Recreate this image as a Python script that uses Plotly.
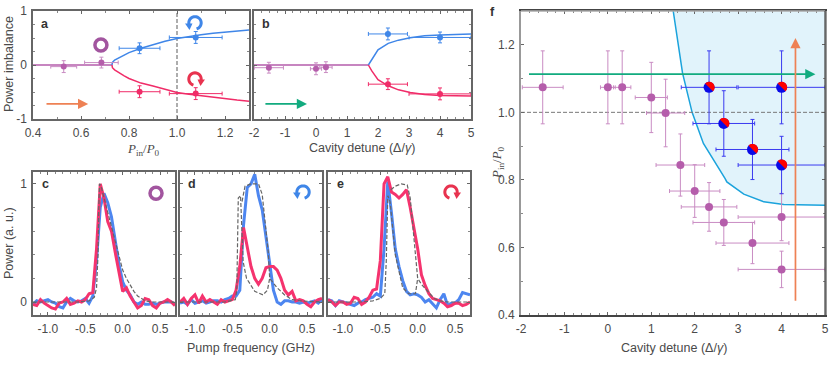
import numpy as np
import plotly.graph_objects as go

W, H = 830, 369
FONT = "Liberation Sans"
GREY = "#666666"
TEXT = "#4a4a4a"
PURPLE = "#b55dab"
PURPLE_ERR = "#c98cc3"
BLUE = "#3f86e8"
RED = "#f02c68"
DEEP_BLUE = "#0a0ae6"
SPEC_BLUE = "#4d86f0"
SPEC_RED = "#f5336e"
ORANGE = "#ee8154"
GREEN = "#12ab7f"
CYAN = "#1ba3dc"
RING = "#a2559f"
ICON_RED = "#e8334f"

# tick labels, hyphens as printed in the figure
power_ticks = [0.4, 0.6, 0.8, 1.0, 1.2]
power_labels = ["0.4", "0.6", "0.8", "1.0", "1.2"]
detune_ticks = [-2, -1, 0, 1, 2, 3, 4, 5]
detune_labels = ["-2", "-1", "0", "1", "2", "3", "4", "5"]
imbalance_ticks = [-1, 0, 1]
imbalance_labels = ["-1", "0", "1"]
freq_ticks = [-1.0, -0.5, 0.0, 0.5]
freq_labels = ["-1.0", "-0.5", "0.0", "0.5"]
spec_ticks = [0, 1]
spec_labels = ["0", "1"]

# panel a: imbalance vs power
a_curve_x = [0.729, 0.731, 0.74, 0.76, 0.78, 0.80, 0.85, 0.9, 0.95, 1.0, 1.05, 1.1, 1.15, 1.2, 1.25, 1.3]
a_upper = [0, 0.05, 0.09, 0.14, 0.19, 0.23, 0.31, 0.38, 0.44, 0.49, 0.53, 0.56, 0.59, 0.61, 0.63, 0.65]
a_lower = [0, -0.05, -0.09, -0.15, -0.2, -0.25, -0.335, -0.39, -0.45, -0.51, -0.54, -0.57, -0.6, -0.62, -0.65, -0.67]
a_flat_x = [0.4, 0.729]
a_flat_y = [0, 0]
a_purple_x = [0.528, 0.685]
a_purple_y = [-0.03, 0.045]
a_purple_xerr = [0.054, 0.07]
a_purple_yerr = [0.11, 0.1]
a_blue_x = [0.844, 1.078]
a_blue_y = [0.31, 0.51]
a_blue_xerr = [0.085, 0.11]
a_blue_yerr = [0.1, 0.11]
a_red_x = [0.844, 1.078]
a_red_y = [-0.495, -0.53]
a_red_xerr = [0.085, 0.11]
a_red_yerr = [0.11, 0.11]

# panel b: imbalance vs detuning
b_curve_x = [1.69, 1.8, 2.0, 2.33, 2.66, 3.04, 3.5, 4.0, 4.5, 5.0]
b_upper = [0, 0.1, 0.28, 0.4, 0.46, 0.505, 0.54, 0.555, 0.57, 0.575]
b_lower = [0, -0.11, -0.27, -0.385, -0.46, -0.51, -0.545, -0.565, -0.57, -0.575]
b_flat_x = [-2, 1.69]
b_flat_y = [0, 0]
b_purple_x = [-1.52, 0, 0.32]
b_purple_y = [-0.05, -0.07, -0.04]
b_purple_xerr = [0.47, 0.18, 0.2]
b_purple_yerr = [0.1, 0.11, 0.1]
b_blue_x = [2.32, 4]
b_blue_y = [0.575, 0.51]
b_blue_xerr = [0.63, 1]
b_blue_yerr = [0.11, 0.1]
b_red_x = [2.32, 4]
b_red_y = [-0.355, -0.535]
b_red_xerr = [0.63, 1]
b_red_yerr = [0.1, 0.11]

# panels c, d, e: measured spectra on a shared frequency grid
freq = [-1.2, -1.15, -1.1, -1.05, -1.0, -0.95, -0.9, -0.85, -0.8, -0.75, -0.7, -0.65, -0.6, -0.55, -0.5, -0.45, -0.4,
        -0.35, -0.3, -0.25, -0.2, -0.15, -0.1, -0.05, 0.0, 0.05, 0.1, 0.15, 0.2, 0.25, 0.3, 0.35, 0.4, 0.45, 0.5,
        0.55, 0.6, 0.65, 0.7]
c_blue = [-0.02, 0.01, 0.0, 0.01, 0.02, 0.0, -0.01, -0.04, -0.05, 0.0, 0.03, 0.01, 0.0, 0.01, 0.03, -0.01, 0.05,
          0.35, 0.8, 0.92, 0.84, 0.72, 0.53, 0.32, 0.17, 0.1, 0.06, 0.0, -0.02, 0.0, -0.02, -0.02, -0.01, -0.02, -0.01,
          0.0, 0.0, 0.0, -0.02]
c_red = [-0.02, -0.03, 0.02, -0.01, -0.03, -0.05, -0.06, -0.01, 0.0, 0.03, -0.02, -0.01, 0.01, 0.0, 0.02, 0.07, 0.08,
         0.45, 1.0, 0.88, 0.68, 0.6, 0.42, 0.27, 0.09, 0.12, 0.05, 0.0, -0.05, -0.03, 0.03, 0.02, -0.03, -0.05, -0.01,
         0.0, 0.02, 0.0, -0.03]
d_blue = [-0.01, 0.0, -0.02, 0.02, -0.01, 0.0, 0.01, -0.01, 0.0, 0.01, 0.01, 0.0, 0.02, 0.03, 0.05, 0.05, 0.1,
          0.65, 0.97, 1.0, 1.08, 0.9, 0.78, 0.55, 0.35, 0.1, 0.0, -0.02, 0.01, 0.01, 0.0, 0.0, -0.01, 0.0, -0.01,
          0.0, 0.01, -0.01, 0.02]
d_red = [0.0, 0.03, -0.02, 0.03, 0.06, -0.01, 0.05, 0.0, 0.02, 0.0, -0.02, 0.02, 0.0, 0.01, 0.02, 0.1, 0.3,
         0.63, 0.47, 0.3, 0.2, 0.15, 0.2, 0.29, 0.3, 0.3, 0.27, 0.2, 0.1, 0.06, 0.09, 0.01, 0.02, 0.01, -0.02,
         -0.04, 0.0, 0.02, 0.03]
e_blue = [0.02, 0.01, -0.03, 0.01, 0.0, -0.01, -0.02, -0.03, -0.01, 0.0, 0.02, 0.03, 0.04, 0.07, 0.05, 0.45, 1.02,
          0.75, 0.45, 0.3, 0.18, 0.09, 0.06, 0.07, 0.06, 0.04, 0.0, 0.02, -0.02, -0.05, 0.02, 0.07, -0.03, -0.01, -0.01,
          0.02, 0.08, 0.07, 0.06]
e_red = [0.02, 0.0, -0.03, 0.0, 0.0, -0.02, -0.01, 0.04, 0.03, -0.02, 0.0, 0.04, 0.1, 0.11, 0.35, 1.0, 1.06,
         0.93, 0.91, 0.88, 0.91, 0.95, 0.8, 0.62, 0.45, 0.23, 0.14, 0.07, 0.03, 0.02, 0.01, -0.01, -0.04, -0.03, -0.01,
         -0.01, -0.03, -0.02, 0.0]

# grey dashed simulations
c_sim_x = [-1.2, -0.6, -0.45, -0.38, -0.35, -0.33, -0.32, -0.31, -0.29, -0.25, -0.2, -0.15, -0.1, -0.05, 0.0, 0.05,
           0.1, 0.15, 0.2, 0.3, 0.4, 0.7]
c_sim_y = [0, 0, 0.01, 0.04, 0.12, 0.4, 0.8, 1.0, 0.98, 0.88, 0.76, 0.63, 0.5, 0.38, 0.27, 0.2, 0.14, 0.09, 0.05,
           0.01, 0, 0]
d_sim_low_x = [-1.2, -0.6, -0.46, -0.44, -0.43, -0.42, -0.39, -0.355, -0.31, -0.2, -0.09, -0.03, 0.0]
d_sim_low_y = [0, 0, 0.02, 0.1, 0.5, 0.88, 0.9, 0.34, 0.2, 0.09, 0.06, 0.1, 0.2]
d_sim_up_x = [-0.37, -0.33, -0.25, -0.15, -0.1, -0.07, -0.02, 0.0, 0.1, 0.2, 0.3, 0.4, 0.7]
d_sim_up_y = [0.85, 0.98, 1.0, 1.0, 0.91, 0.74, 0.43, 0.2, 0.12, 0.06, 0.02, 0.01, 0]
e_sim_low_x = [-1.2, -0.75, -0.6, -0.5, -0.44, -0.42, -0.4, -0.37, -0.3, -0.25, -0.2, -0.12, -0.03, 0.0]
e_sim_low_y = [0, 0, 0.01, 0.03, 0.07, 0.35, 0.9, 0.85, 0.4, 0.25, 0.12, 0.07, 0.07, 0.2]
e_sim_up_x = [-0.36, -0.3, -0.22, -0.14, -0.1, -0.05, 0.0, 0.05, 0.13, 0.22, 0.3, 0.4, 0.7]
e_sim_up_y = [0.95, 0.98, 1.0, 0.99, 0.88, 0.55, 0.2, 0.15, 0.09, 0.03, 0.01, 0, 0]

# panel f: phase diagram
f_edge_x = [1.505, 1.72, 1.94, 2.2, 2.7, 2.74, 3.13, 3.59, 4.05, 4.67, 5.0]
f_edge_y = [1.3, 1.116, 1.0, 0.908, 0.804, 0.794, 0.758, 0.735, 0.727, 0.725, 0.725]
f_purple_x = [-1.5, 0, 0.33, 1.0, 1.33, 1.67, 2.0, 2.33, 2.67, 3.33, 4.0, 4.0]
f_purple_y = [1.074, 1.074, 1.074, 1.044, 0.998, 0.844, 0.767, 0.72, 0.674, 0.613, 0.69, 0.535]
f_purple_xerr = [0.47, 0.17, 0.2, 0.37, 0.44, 0.56, 0.58, 0.64, 0.71, 0.84, 1.0, 1.0]
f_purple_yerr = [0.108, 0.108, 0.108, 0.104, 0.1, 0.092, 0.078, 0.072, 0.068, 0.061, 0.07, 0.054]
f_split_x = [2.33, 4.0, 2.67, 3.33, 4.0]
f_split_y = [1.074, 1.074, 0.967, 0.89, 0.844]
f_split_xerr = [0.64, 1.0, 0.71, 0.84, 1.0]
f_split_yerr = [0.108, 0.108, 0.097, 0.089, 0.085]

# panel boxes in page pixels: left, right, top, bottom
BOXES = {
    "a": (33, 249, 11, 119),
    "b": (254, 471, 11, 119),
    "c": (33, 175, 172, 315),
    "d": (180, 322, 172, 315),
    "e": (328, 470, 172, 315),
    "f": (521, 825, 11, 315),
}
NAMES = {"a": "", "b": "2", "c": "3", "d": "4", "e": "5", "f": "6"}
LETTERS = {"a": (45, 24), "b": (266, 24), "c": (45, 184), "d": (192, 184), "e": (340, 184), "f": (492, 12)}


def xd(p):
    return [BOXES[p][0] / W, BOXES[p][1] / W]


def yd(p):
    return [1 - BOXES[p][3] / H, 1 - BOXES[p][2] / H]


fig = go.Figure()


def axis(panel, rng, ticks, labels, minor, show_labels=True, color=GREY, width=1.5):
    return dict(
        domain=xd(panel), range=rng, tickmode="array", tickvals=ticks, ticktext=labels, ticks="inside", ticklen=3,
        tickwidth=1, tickcolor=GREY,
        minor=dict(ticks="inside", ticklen=2, tickwidth=1, tickcolor="#888888", dtick=minor, tick0=0),
        showline=True, linecolor=color, linewidth=width, mirror="ticks", showgrid=False, zeroline=False,
        showticklabels=show_labels, ticklabelstandoff=2, tickfont=dict(family=FONT, size=12, color=TEXT),
    )


def add_points(panel, x, y, xerr, yerr, color, err_color, size=6):
    s = NAMES[panel]
    fig.add_trace(go.Scatter(
        x=x, y=y, mode="markers", xaxis="x" + s, yaxis="y" + s,
        marker=dict(color=color, size=size),
        error_x=dict(type="data", array=xerr, color=err_color, thickness=1, width=2),
        error_y=dict(type="data", array=yerr, color=err_color, thickness=1, width=2),
    ))


def add_line(panel, x, y, color, width=1.5, dash=None):
    s = NAMES[panel]
    fig.add_trace(go.Scatter(
        x=x, y=y, mode="lines", xaxis="x" + s, yaxis="y" + s,
        line=dict(color=color, width=width, dash=dash),
    ))


# a
add_line("a", [1, 1], [-1, 1], "#777777", 1.2, "4px,2px")
add_line("a", a_flat_x, a_flat_y, PURPLE)
add_line("a", a_curve_x, a_upper, BLUE)
add_line("a", a_curve_x, a_lower, RED)
add_points("a", a_purple_x, a_purple_y, a_purple_xerr, a_purple_yerr, PURPLE, PURPLE_ERR)
add_points("a", a_blue_x, a_blue_y, a_blue_xerr, a_blue_yerr, BLUE, BLUE)
add_points("a", a_red_x, a_red_y, a_red_xerr, a_red_yerr, RED, RED)

# b
add_line("b", b_flat_x, b_flat_y, PURPLE)
add_line("b", b_curve_x, b_upper, BLUE)
add_line("b", b_curve_x, b_lower, RED)
add_points("b", b_purple_x, b_purple_y, b_purple_xerr, b_purple_yerr, PURPLE, PURPLE_ERR)
add_points("b", b_blue_x, b_blue_y, b_blue_xerr, b_blue_yerr, BLUE, BLUE)
add_points("b", b_red_x, b_red_y, b_red_xerr, b_red_yerr, RED, RED)

# c, d, e
add_line("c", freq, c_blue, SPEC_BLUE, 3)
add_line("c", freq, c_red, SPEC_RED, 3)
add_line("c", c_sim_x, c_sim_y, "#666666", 1.2, "4px,2px")
add_line("d", freq, d_blue, SPEC_BLUE, 3)
add_line("d", freq, d_red, SPEC_RED, 3)
add_line("d", d_sim_low_x, d_sim_low_y, "#666666", 1.2, "4px,2px")
add_line("d", d_sim_up_x, d_sim_up_y, "#666666", 1.2, "4px,2px")
add_line("e", freq, e_blue, SPEC_BLUE, 3)
add_line("e", freq, e_red, SPEC_RED, 3)
add_line("e", e_sim_low_x, e_sim_low_y, "#666666", 1.2, "4px,2px")
add_line("e", e_sim_up_x, e_sim_up_y, "#666666", 1.2, "4px,2px")

# f
fig.add_trace(go.Scatter(
    x=f_edge_x + [5, f_edge_x[0]], y=f_edge_y + [1.3, 1.3], mode="none", fill="toself",
    fillcolor="#e1f3fb", xaxis="x6", yaxis="y6",
))
add_line("f", f_edge_x, f_edge_y, CYAN)
add_line("f", [-2, 5], [1, 1], "#777777", 1, "4px,2px")
add_points("f", f_purple_x, f_purple_y, f_purple_xerr, f_purple_yerr, PURPLE, PURPLE_ERR, 8)
add_points("f", f_split_x, f_split_y, f_split_xerr, f_split_yerr, DEEP_BLUE, "#3a3af0", 11)

fig.update_layout(
    width=W, height=H, margin=dict(l=0, r=0, t=0, b=0, autoexpand=False), showlegend=False,
    paper_bgcolor="white", plot_bgcolor="rgba(0,0,0,0)",
    font=dict(family=FONT, size=12, color=TEXT),
    xaxis=dict(axis("a", [0.4, 1.3], power_ticks, power_labels, 0.1), anchor="y"),
    yaxis=dict(axis("a", [-1, 1], imbalance_ticks, imbalance_labels, 0.25), domain=yd("a"), anchor="x"),
    xaxis2=dict(axis("b", [-2, 5], detune_ticks, detune_labels, 0.25), anchor="y2"),
    yaxis2=dict(axis("b", [-1, 1], imbalance_ticks, imbalance_labels, 0.25, False), domain=yd("b"), anchor="x2"),
    xaxis3=dict(axis("c", [-1.2, 0.7], freq_ticks, freq_labels, 0.1), anchor="y3"),
    yaxis3=dict(axis("c", [-0.11, 1.1], spec_ticks, spec_labels, 0.2), domain=yd("c"), anchor="x3"),
    xaxis4=dict(axis("d", [-1.2, 0.7], freq_ticks, freq_labels, 0.1), anchor="y4"),
    yaxis4=dict(axis("d", [-0.11, 1.1], spec_ticks, spec_labels, 0.2, False), domain=yd("d"), anchor="x4"),
    xaxis5=dict(axis("e", [-1.2, 0.7], freq_ticks, freq_labels, 0.1), anchor="y5"),
    yaxis5=dict(axis("e", [-0.11, 1.1], spec_ticks, spec_labels, 0.2, False), domain=yd("e"), anchor="x5"),
    xaxis6=dict(axis("f", [-2, 5], detune_ticks, detune_labels, 0.2, color="#444444"), anchor="y6"),
    yaxis6=dict(axis("f", [0.4, 1.3], power_ticks, power_labels, 0.1, color="#999999", width=2), domain=yd("f"),
                anchor="x6"),
)


def arc_path(start, stop, radius, close=False):
    # glyph outline in pixels around its anchor
    angles = np.radians(np.linspace(start, stop, 24))
    pts = [f"{radius * np.cos(t):.2f} {radius * np.sin(t):.2f}" for t in angles]
    return "M " + " L ".join(pts) + (" Z" if close else "")


# red half of the split markers, anchored on the data points
for x, y in zip(f_split_x, f_split_y):
    fig.add_shape(
        type="path", xref="x6", yref="y6", xsizemode="pixel", ysizemode="pixel", xanchor=x, yanchor=y,
        path=arc_path(-45, 135, 5.6, close=True), fillcolor="#ff0000", line=dict(width=0),
    )


def spin_icon(xref, yref, x, y, color, mirror):
    # open ring with an arrowhead, sized in pixels around its anchor
    s = -1 if mirror else 1
    span = (195, -75) if not mirror else (-15, 255)
    fig.add_shape(
        type="path", xref=xref, yref=yref, xsizemode="pixel", ysizemode="pixel", xanchor=x, yanchor=y,
        path=arc_path(span[0], span[1], 6.2), line=dict(color=color, width=3),
    )
    fig.add_shape(
        type="path", xref=xref, yref=yref, xsizemode="pixel", ysizemode="pixel", xanchor=x, yanchor=y,
        path=f"M {-10 * s} -0.5 L {-2.5 * s} -0.5 L {-5.5 * s} -7 Z",
        fillcolor=color, line=dict(width=0),
    )


def ring_icon(panel, x, y):
    s = NAMES[panel]
    fig.add_trace(go.Scatter(
        x=[x], y=[y], mode="markers", xaxis="x" + s, yaxis="y" + s,
        marker=dict(symbol="circle-open", size=12, color=RING, line=dict(width=3.5, color=RING)),
    ))


ring_icon("a", 0.683, 0.37)
ring_icon("c", 0.446, 0.92)
spin_icon("x", "y", 1.075, 0.78, BLUE, False)
spin_icon("x", "y", 1.075, -0.26, ICON_RED, True)
spin_icon("x4", "y4", 0.446, 0.93, BLUE, False)
spin_icon("x5", "y5", 0.446, 0.93, ICON_RED, True)

# top and right edges of f differ from its axis colours
fig.add_shape(type="line", xref="x6 domain", yref="y6 domain", x0=0, x1=1, y0=1, y1=1,
              line=dict(color="#aaaaaa", width=1.5))
fig.add_shape(type="line", xref="x6 domain", yref="y6 domain", x0=1, x1=1, y0=0, y1=1,
              line=dict(color="#444444", width=1.2))


def page_text(px, py, text, size=12.5, angle=0, family=FONT, color=TEXT):
    fig.add_annotation(
        xref="paper", yref="paper", x=px / W, y=1 - py / H, text=text, showarrow=False, textangle=angle,
        xanchor="center", yanchor="middle", font=dict(family=family, size=size, color=color),
    )


for letter, (px, py) in LETTERS.items():
    page_text(px, py, f"<b>{letter}</b>", 12.5, color="#333333")

P_LABEL = "<i>P</i><sub>in</sub>/<i>P</i><sub>0</sub>"
page_text(143, 149, P_LABEL, 13, 0, "Liberation Serif")
page_text(362, 148, "Cavity detune (Δ/<i>γ</i>)")
page_text(251, 348, "Pump frequency (GHz)")
page_text(674, 348, "Cavity detune (Δ/<i>γ</i>)")
page_text(9, 64, "Power imbalance", 12.5, -90)
page_text(9, 243, "Power (a. u.)", 12.5, -90)
page_text(497, 163, P_LABEL, 13, -90, "Liberation Serif")


def arrow(xref, yref, x0, y0, x1, y1, color):
    fig.add_annotation(
        xref=xref, yref=yref, axref=xref, ayref=yref, x=x1, y=y1, ax=x0, ay=y0, text="", showarrow=True,
        arrowhead=2, arrowsize=1.2, arrowwidth=1.7, arrowcolor=color,
    )


arrow("x", "y", 0.45, -0.72, 0.63, -0.72, ORANGE)
arrow("x2", "y2", -1.68, -0.72, -0.29, -0.72, GREEN)
arrow("x6", "y6", -1.85, 1.113, 4.78, 1.113, GREEN)
arrow("x6", "y6", 4.32, 0.438, 4.32, 1.22, ORANGE)

fig.write_html("out.html", config={"displayModeBar": False}, post_script="document.body.style.margin='0';")
